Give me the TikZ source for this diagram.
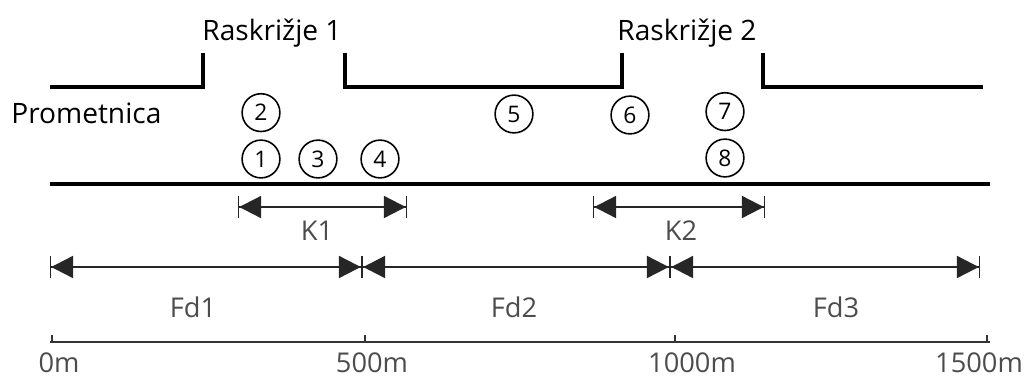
\documentclass[tikz,border=0pt]{standalone}
\usepackage{fontspec}
\setmainfont{Open Sans}
\usetikzlibrary{
  arrows.meta,
  positioning
}
\tikzset{
  road/.style = {line width=2.6pt, draw=black},
  marker/.style = {
    circle, draw=black, line width=0.9pt,
    minimum size=21.5pt, inner sep=0pt,
    font=\fontsize{13}{13}\selectfont
  },
  dimarr/.style = {
    {Bar[width=12.5pt,line width=0.7pt]Triangle[length=12.5pt,width=12.5pt]}-%
    {Triangle[length=12.5pt,width=12.5pt]Bar[width=12.5pt,line width=0.7pt]},
    draw=black!85, line width=1.3pt
  },
  axisline/.style = {draw=black!80, line width=1pt},
  ttl/.style = {font=\fontsize{16}{16}\selectfont, inner sep=0pt, anchor=base},
  lbl/.style = {font=\fontsize{15.5}{15.5}\selectfont, text=black!70,
                inner sep=0pt, anchor=base},
}

\begin{document}
\begin{tikzpicture}[x=0.02cm, y=-0.02cm]
  \useasboundingbox (0,0) rectangle (1030,376);

  % Road edges
  \coordinate (ta) at (50,87);
  \coordinate (tb) at (203,53);
  \coordinate (tc) at (345,53);
  \coordinate (td) at (622,53);
  \coordinate (te) at (763,53);
  \coordinate (tf) at (983,87);
  \coordinate (ba) at (50,184);
  \coordinate (bb) at (990,184);
  \draw[road] (ta) -| (tb);
  \draw[road] (tc) |- (td |- ta) -- (td);
  \draw[road] (te) |- (tf);
  \draw[road] (ba) -- (bb);

  \node[ttl] (ras1) at (272,40) {Raskrižje 1};
  \node[ttl] (ras2) at (687,40) {Raskrižje 2};
  \node[ttl, anchor=base west] (prom) at (11,123) {Prometnica};

  % Vehicles
  \node[marker] (c1) at (261,159) {1};
  \node[marker, above=4pt of c1] (c2) {2};
  \node[marker] (c3) at (318,159) {3};
  \node[marker] (c4) at (380,159) {4};
  \node[marker] (c5) at (514,114) {5};
  \node[marker] (c6) at (630,115) {6};
  \node[marker] (c8) at (725,158) {8};
  \node[marker, above=4pt of c8] (c7) {7};

  % Clusters
  \coordinate (k1s) at (238,207);
  \coordinate (k1e) at (407,207);
  \coordinate (k2s) at (593,207);
  \coordinate (k2e) at (765,207);
  \draw[dimarr] (k1s) -- (k1e);
  \draw[dimarr] (k2s) -- (k2e);
  \node[lbl] (k1) at (317,240) {K1};
  \node[lbl] (k2) at (681,240) {K2};

  % Segments
  \coordinate (f0) at (50,267);
  \coordinate (f1) at (362,267);
  \coordinate (f2) at (670,267);
  \coordinate (f3) at (980,267);
  \draw[dimarr] (f0) -- (f1);
  \draw[dimarr] (f1) -- (f2);
  \draw[dimarr] (f2) -- (f3);
  \node[lbl] (fd1) at (193,317) {Fd1};
  \node[lbl] (fd2) at (514,317) {Fd2};
  \node[lbl] (fd3) at (836,317) {Fd3};

  % Scale
  \coordinate (a0) at (50,342);
  \coordinate (a1) at (990,342);
  \draw[axisline] (a0) -- (a1);
  \foreach \x in {52,365,675,987}
    \draw[axisline] (\x,342) -- (\x,335);
  \node[lbl] (m0) at (59,372) {0m};
  \node[lbl] (m500) at (372,372) {500m};
  \node[lbl] (m1000) at (692,372) {1000m};
  \node[lbl] (m1500) at (979,372) {1500m};

\end{tikzpicture}
\end{document}
